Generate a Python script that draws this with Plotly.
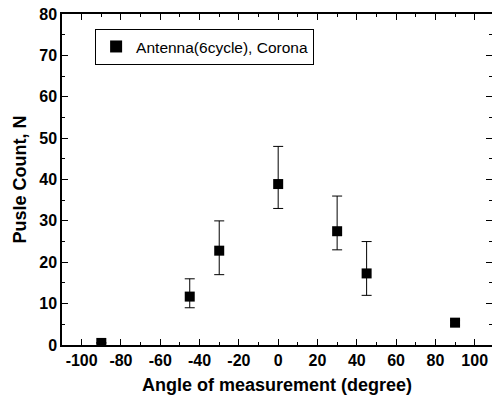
import plotly.graph_objects as go

angles = [-90, -45, -30, 0, 30, 45, 90]
counts = [0.5, 11.7, 22.8, 38.9, 27.5, 17.3, 5.4]
err_plus = [0, 4.3, 7.2, 9.1, 8.5, 7.7, 0.6]
err_minus = [0, 2.7, 5.8, 5.9, 4.5, 5.3, 0.6]
series_name = "Antenna(6cycle), Corona"
x_ticks = [-100, -80, -60, -40, -20, 0, 20, 40, 60, 80, 100]
y_ticks = [0, 10, 20, 30, 40, 50, 60, 70, 80]

tickfont = dict(size=16, family="Liberation Sans, Arial", weight=700, color="black")

fig = go.Figure()
fig.add_trace(go.Scatter(
    x=angles, y=counts, mode="markers", name=series_name,
    marker=dict(symbol="square", size=10, color="black"),
    error_y=dict(type="data", symmetric=False, array=err_plus, arrayminus=err_minus,
                 color="black", thickness=1, width=5),
    cliponaxis=True,
))

fig.update_layout(
    width=492, height=404,
    margin=dict(l=62, r=0, t=14, b=59),
    paper_bgcolor="white", plot_bgcolor="white",
    font=dict(family="Liberation Sans, Arial", color="black"),
    showlegend=True,
    legend=dict(x=0.077, y=0.955, xanchor="left", yanchor="top",
                bordercolor="black", borderwidth=1, bgcolor="white",
                font=dict(size=15.5), itemsizing="constant", itemwidth=30),
    xaxis=dict(range=[-110, 108.8], tickvals=x_ticks,
               ticktext=[f"<b>{v}</b>" for v in x_ticks],
               ticks="inside", ticklen=6, automargin=False,
               tickcolor="black", showline=True, linecolor="black", linewidth=1.5,
               mirror="ticks", showgrid=False, zeroline=False,
               tickfont=tickfont,
               minor=dict(dtick=10, tick0=0, ticks="inside", ticklen=3, tickcolor="black"),
               title=dict(text="<b>Angle of measurement (degree)</b>", font=dict(size=18), standoff=10)),
    yaxis=dict(range=[0, 80], tickvals=y_ticks,
               ticktext=[f"<b>{v}</b>" for v in y_ticks],
               ticks="inside", ticklen=6, automargin=False,
               tickcolor="black", showline=True, linecolor="black", linewidth=1.5,
               mirror="ticks", showgrid=False, zeroline=False,
               tickfont=tickfont,
               minor=dict(dtick=5, tick0=0, ticks="inside", ticklen=3, tickcolor="black"),
               title=dict(text="<b>Pusle Count, N</b>", font=dict(size=18), standoff=8)),
)

fig.write_html("out.html", config={"displayModeBar": False},
               post_script="document.body.style.margin='0';document.body.style.overflow='hidden';")
